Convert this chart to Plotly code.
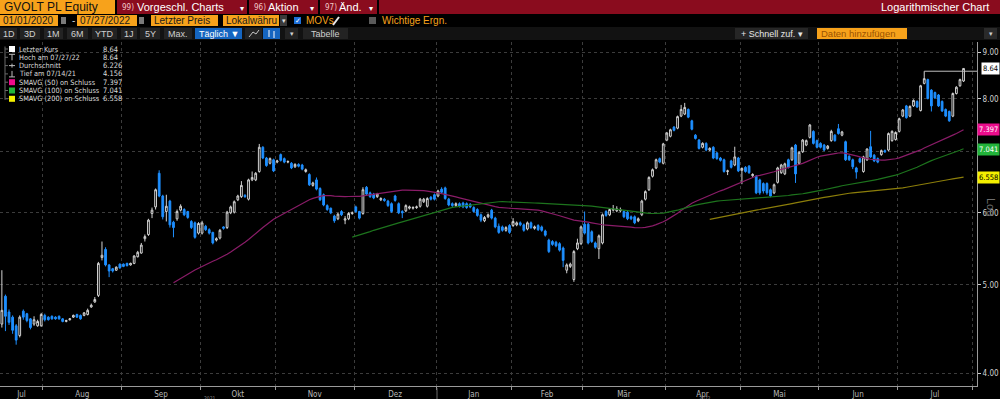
import numpy as np
import pandas as pd
import plotly.graph_objects as go

# ---------------- data ----------------
dates = pd.bdate_range("2021-07-14", "2022-07-27")

opens = [
 4.50,4.53,4.86,4.67,4.61,4.51,4.40,4.68,4.65,4.59, 4.53,4.51,4.51,4.63,4.61,4.62,4.61,4.62,4.59,4.56,
 4.58,4.61,4.64,4.63,4.63,4.64,4.73,4.79,4.87,5.36, 5.47,5.26,5.21,5.19,5.27,5.27,5.28,5.26,5.28,5.37,
 5.42,5.62,5.68,5.99,6.09,6.63,6.26,6.02,6.18,5.86, 5.91,6.04,6.05,6.02,5.87,5.85,5.70,5.70,5.80,5.75,
 5.71,5.60,5.63,5.79,5.78,6.00,6.01,6.20,6.25,6.27, 6.21,6.52,6.52,6.66,7.08,6.89,6.80,6.86,6.82,6.95,
 6.88,6.82,6.80,6.74,6.78,6.77,6.66,6.61,6.43,6.52, 6.38,6.28,6.11,6.07,5.95,5.91,6.02,5.89,5.91,5.99,
 6.09,6.02,5.99,6.40,6.31,6.29,6.25,6.20,6.21,6.18, 6.14,6.26,6.14,6.02,6.03,6.07,6.07,6.08,6.10,6.17,
 6.10,6.24,6.28,6.26,6.37,6.39,6.21,6.14,6.11,6.14, 6.15,6.14,6.13,6.08,6.05,5.97,5.88,5.94,6.04,5.92,
 5.80,5.79,5.74,5.81,5.81,5.82,5.85,5.82,5.76,5.85, 5.77,5.81,5.79,5.73,5.60,5.58,5.57,5.55,5.49,5.19,
 5.24,5.07,5.48,5.55,5.83,5.83,5.72,5.56,5.48,5.56, 6.02,5.97,6.04,6.03,6.03,6.02,6.01,5.94,5.94,5.88,
 5.97,6.21,6.36,6.58,6.72,6.88,6.80,7.21,7.28,7.45, 7.43,7.66,7.70,7.79,7.57,7.30,7.21,7.08,7.15,7.03,
 7.08,6.98,6.89,6.86,6.66,6.84,6.77,6.89,6.68,6.73, 6.75,6.59,6.58,6.52,6.46,6.46,6.36,6.31,6.48,6.64,
 6.62,6.86,6.86,7.12,6.80,7.00,7.12,7.26,7.37,7.20, 7.15,7.12,7.06,7.20,7.30,7.42,7.30,7.18,6.92,6.86,
 6.72,6.88,6.66,6.86,7.09,6.94,6.88,6.95,7.02,7.03, 7.20,7.22,7.37,7.66,7.86,7.66,7.86,7.95,7.77,8.32,
 8.40,8.18,8.13,8.08,7.95,7.79,7.75,7.66,8.11,8.27, 8.37]
highs = [
 4.70,5.19,4.88,4.70,4.63,4.53,4.63,4.70,4.66,4.60, 4.62,4.58,4.66,4.65,4.62,4.63,4.62,4.63,4.60,4.58,
 4.60,4.64,4.65,4.64,4.67,4.71,4.77,4.85,5.30,5.58, 5.50,5.27,5.22,5.24,5.28,5.28,5.29,5.29,5.39,5.45,
 5.56,5.68,5.91,6.08,6.38,6.68,6.28,6.28,6.20,5.88, 6.05,6.13,6.07,6.03,5.89,5.87,5.86,5.88,5.82,5.77,
 5.72,5.64,5.76,5.80,6.03,6.11,6.19,6.28,6.50,6.29, 6.54,6.66,6.65,7.14,7.10,6.91,6.90,6.88,6.86,6.97,
 6.90,6.85,6.82,6.80,6.80,6.79,6.71,6.63,6.49,6.56, 6.40,6.30,6.13,6.08,5.97,6.00,6.04,5.95,6.01,6.02,
 6.11,6.03,6.40,6.42,6.33,6.31,6.31,6.24,6.23,6.20, 6.16,6.28,6.16,6.04,6.13,6.11,6.10,6.11,6.23,6.23,
 6.24,6.26,6.30,6.36,6.40,6.41,6.23,6.16,6.16,6.16, 6.17,6.16,6.15,6.10,6.07,5.99,5.95,5.99,6.06,5.94,
 5.84,5.81,5.80,5.83,5.92,5.87,5.87,5.84,5.87,5.87, 5.81,5.83,5.81,5.75,5.62,5.60,5.59,5.57,5.51,5.28,
 5.29,5.46,5.62,5.81,6.02,5.85,5.74,5.58,5.68,5.99, 6.04,6.07,6.12,6.10,6.08,6.04,6.03,5.96,5.96,5.93,
 6.20,6.35,6.58,6.71,6.88,6.90,7.16,7.36,7.42,7.47, 7.67,7.88,7.92,7.81,7.59,7.32,7.23,7.17,7.17,7.08,
 7.10,7.00,6.91,6.88,6.69,6.86,7.09,6.91,6.73,6.75, 6.77,6.63,6.60,6.54,6.48,6.48,6.38,6.46,6.74,6.79,
 6.81,6.88,7.09,7.14,7.01,7.23,7.22,7.51,7.39,7.22, 7.17,7.14,7.12,7.40,7.32,7.51,7.38,7.20,6.94,6.88,
 6.74,6.90,6.93,7.06,7.38,6.96,6.90,7.04,7.04,7.35, 7.39,7.37,7.63,7.80,7.88,7.87,7.99,7.97,8.29,8.58,
 8.42,8.20,8.15,8.10,7.97,7.81,7.77,8.13,8.26,8.42, 8.64]
lows = [
 4.156,4.49,4.45,4.52,4.42,4.30,4.38,4.58,4.55,4.47, 4.51,4.50,4.50,4.56,4.57,4.58,4.58,4.58,4.55,4.55,
 4.57,4.60,4.60,4.58,4.62,4.63,4.72,4.78,4.85,5.32, 5.24,5.10,5.16,5.18,5.21,5.23,5.24,5.25,5.27,5.36,
 5.41,5.58,5.66,5.92,6.05,6.24,5.90,5.87,5.78,5.64, 5.88,6.02,5.95,5.91,5.76,5.62,5.68,5.68,5.73,5.68,
 5.54,5.58,5.61,5.75,5.76,5.98,5.99,6.18,6.23,6.23, 6.19,6.50,6.50,6.64,6.87,6.74,6.78,6.65,6.80,6.83,
 6.80,6.80,6.70,6.72,6.73,6.68,6.64,6.42,6.41,6.35, 6.18,6.10,6.03,5.98,5.85,5.89,5.95,5.83,5.89,5.97,
 6.00,5.90,5.97,6.27,6.23,6.21,6.23,6.18,6.17,6.09, 6.00,6.17,5.98,5.92,6.01,6.05,6.05,6.06,6.08,6.15,
 6.08,6.19,6.19,6.24,6.30,6.20,6.10,6.09,6.09,6.08, 6.07,6.06,6.07,6.00,5.94,5.86,5.86,5.92,5.90,5.77,
 5.69,5.72,5.72,5.69,5.79,5.80,5.80,5.72,5.74,5.76, 5.75,5.73,5.72,5.65,5.42,5.52,5.50,5.44,5.23,5.15,
 5.22,5.04,5.46,5.53,5.68,5.54,5.56,5.48,5.34,5.54, 5.94,5.95,6.02,6.01,6.01,5.92,5.89,5.89,5.83,5.86,
 5.95,6.19,6.34,6.56,6.70,6.80,6.78,7.19,7.26,7.37, 7.41,7.64,7.68,7.62,7.39,7.22,7.04,7.06,7.01,7.01,
 6.87,6.86,6.83,6.64,6.60,6.71,6.75,6.65,6.45,6.64, 6.62,6.57,6.29,6.28,6.30,6.28,6.24,6.29,6.46,6.62,
 6.60,6.71,6.84,6.47,6.78,6.98,7.10,7.24,7.13,7.06, 7.06,7.01,7.04,7.18,7.18,7.31,7.28,6.84,6.84,6.70,
 6.54,6.80,6.64,6.84,6.89,6.82,6.80,6.93,6.98,7.01, 7.18,7.20,7.35,7.64,7.61,7.64,7.84,7.82,7.75,8.30,
 7.99,7.75,8.00,7.84,7.74,7.64,7.55,7.64,8.09,8.25, 8.35]
closes = [
 4.60,4.69,4.62,4.55,4.46,4.35,4.61,4.61,4.57,4.49, 4.58,4.56,4.64,4.58,4.58,4.59,4.59,4.59,4.56,4.57,
 4.59,4.63,4.61,4.59,4.66,4.69,4.75,4.82,5.28,5.39, 5.26,5.18,5.18,5.23,5.22,5.24,5.25,5.28,5.38,5.43,
 5.53,5.65,5.89,6.04,6.36,6.26,5.94,6.10,5.82,5.78, 6.02,6.10,5.97,5.93,5.78,5.64,5.84,5.85,5.75,5.70,
 5.56,5.62,5.74,5.77,6.01,6.09,6.17,6.26,6.43,6.25, 6.52,6.56,6.63,7.08,6.89,6.76,6.88,6.67,6.84,6.85,
 6.82,6.83,6.72,6.78,6.75,6.70,6.69,6.44,6.47,6.37, 6.20,6.12,6.05,6.00,5.88,5.98,5.97,5.91,5.99,6.00,
 6.02,5.92,6.36,6.29,6.25,6.23,6.29,6.22,6.19,6.11, 6.02,6.19,6.00,6.00,6.11,6.09,6.08,6.09,6.21,6.21,
 6.22,6.21,6.21,6.34,6.32,6.22,6.12,6.11,6.14,6.10, 6.09,6.08,6.09,6.02,5.96,5.89,5.93,5.97,5.92,5.79,
 5.71,5.74,5.78,5.71,5.87,5.85,5.82,5.74,5.85,5.78, 5.79,5.75,5.74,5.67,5.44,5.54,5.52,5.46,5.32,5.26,
 5.27,5.44,5.56,5.79,5.70,5.56,5.58,5.50,5.66,5.97, 5.96,6.05,6.06,6.06,6.05,5.94,5.91,5.91,5.85,5.91,
 6.18,6.33,6.56,6.69,6.86,6.82,7.14,7.34,7.40,7.39, 7.65,7.79,7.83,7.64,7.41,7.24,7.06,7.15,7.03,7.06,
 6.89,6.88,6.85,6.66,6.67,6.73,6.91,6.67,6.71,6.66, 6.64,6.61,6.31,6.31,6.34,6.31,6.26,6.44,6.72,6.77,
 6.79,6.73,7.07,6.62,6.99,7.21,7.20,7.49,7.15,7.08, 7.08,7.03,7.10,7.37,7.20,7.33,7.36,6.86,6.86,6.74,
 6.65,6.82,6.91,7.05,6.91,6.84,6.82,7.02,7.00,7.33, 7.37,7.35,7.61,7.78,7.63,7.85,7.97,7.84,8.27,8.42,
 8.01,7.86,8.02,7.86,7.76,7.66,7.57,8.11,8.24,8.40, 8.64]

sma_windows = [50, 100, 200]
sma_line_colors = ["#8a1c68", "#1d741d", "#8c7e0a"]
sma_tag_colors = ["#ec0c8c", "#22b33a", "#f4f000"]
sma_tag_text = ["white", "white", "black"]

legend_labels = ["Letzter Kurs", "Hoch am 07/27/22", "Durchschnitt", "Tief am 07/14/21",
                 "SMAVG (50) on Schluss", "SMAVG (100) on Schluss", "SMAVG (200) on Schluss"]
legend_values = ["8.64", "8.64", "6.226", "4.156", "7.397", "7.041", "6.558"]

month_names = {1: "Jan", 2: "Feb", 3: "Mär", 4: "Apr", 5: "Mai", 6: "Jun",
               7: "Jul", 8: "Aug", 9: "Sep", 10: "Okt", 11: "Nov", 12: "Dez"}
y_ticks = [4, 5, 6, 7, 8, 9]
prior_high_index = 259

# ---------------- geometry helpers (layout chrome only) ----------------
W, H = 1000, 399
ML, MR, MT, MB = 0, 23, 42, 13
PW, PH = W - ML - MR, H - MT - MB
XMIN, XMAX = 0.476, 273.76
YR = [0.58814, 0.96554]

def px(x):
    return (x - ML) / PW

def py(y):
    return (H - MB - y) / PH

NARROW = "Liberation Sans Narrow, DejaVu Sans Condensed, Liberation Sans, Arial, sans-serif"
REG = "Liberation Sans, Arial, sans-serif"
shapes, annos = [], []

def rect(x0, y0, x1, y1, fill, line=None):
    shapes.append(dict(type="rect", xref="paper", yref="paper", x0=px(x0), x1=px(x1),
                       y0=py(y1), y1=py(y0), fillcolor=fill,
                       line=dict(width=1 if line else 0, color=line or fill), layer="above"))

def seg(x0, y0, x1, y1, color, width=1, dash=None):
    shapes.append(dict(type="line", xref="paper", yref="paper", x0=px(x0), x1=px(x1),
                       y0=py(y0), y1=py(y1), line=dict(color=color, width=width, dash=dash), layer="above"))

def text(x, y, s, color="#d0d0d0", size=10, anchor="left", family=REG, **kw):
    annos.append(dict(xref="paper", yref="paper", x=px(x), y=py(y), text=s, showarrow=False,
                      xanchor=anchor, yanchor="middle", font=dict(family=family, size=size, color=color), **kw))

# ---------------- figure ----------------
x = np.arange(len(dates))
close_s = pd.Series(closes)
fig = go.Figure()

for w, c in zip(sma_windows, sma_line_colors):
    fig.add_trace(go.Scatter(x=x, y=close_s.rolling(w).mean(), mode="lines",
                             line=dict(color=c, width=1.2), hoverinfo="skip", showlegend=False))

fig.add_trace(go.Candlestick(
    x=x, open=opens, high=highs, low=lows, close=closes, whiskerwidth=0,
    increasing=dict(line=dict(color="#d2d2d2", width=1), fillcolor="#000000"),
    decreasing=dict(line=dict(color="#1e8fff", width=1), fillcolor="#1e8fff"),
    showlegend=False))

# line from the earlier peak to the right price tag
fig.add_trace(go.Scatter(x=[prior_high_index, XMAX], y=[highs[prior_high_index]] * 2, mode="lines",
                         line=dict(color="#bdbdbd", width=1), hoverinfo="skip", showlegend=False,
                         cliponaxis=False))

# month boundaries / label centres from dates
per = dates.to_period("M")
starts = [0] + [i for i in range(1, len(dates)) if per[i] != per[i - 1]]
after = len(pd.bdate_range(dates[-1] + pd.Timedelta(days=1), dates[-1] + pd.offsets.MonthEnd(0)))
bounds = [s - 0.5 for s in starts] + [len(dates) + after - 0.5]
minor_vals = bounds[1:]
centers, labels = [], []
for k, s in enumerate(starts):
    a, b = max(bounds[k], XMIN), min(bounds[k + 1], XMAX)
    centers.append((a + b) / 2)
    labels.append(month_names[dates[s].month])

fig.update_layout(
    width=W, height=H, autosize=False,
    margin=dict(l=ML, r=MR, t=MT, b=MB, pad=0),
    paper_bgcolor="#000000", plot_bgcolor="#000000",
    font=dict(family=NARROW, color="#c8c8c8"),
    xaxis=dict(range=[XMIN, XMAX], tickmode="array", tickvals=centers, ticktext=labels,
               ticks="", showgrid=False, zeroline=False, rangeslider=dict(visible=False),
               showline=True, linecolor="#9a9a9a", linewidth=1,
               tickfont=dict(family=NARROW, size=8, color="#b8b8b8"),
               minor=dict(tickmode="array", tickvals=minor_vals, ticks="outside", ticklen=3,
                          tickcolor="#9a9a9a", showgrid=True, gridcolor="#3c3c3c", griddash="dot",
                          gridwidth=1)),
    yaxis=dict(type="log", range=YR, side="right", tickmode="array", tickvals=y_ticks,
               ticktext=[f"{v:.2f}" for v in y_ticks], ticks="outside", ticklen=3,
               tickcolor="#cfcfcf", showgrid=True, gridcolor="#3c3c3c", griddash="dot",
               zeroline=False, showline=True, linecolor="#9a9a9a", linewidth=1,
               tickfont=dict(family=NARROW, size=8, color="#d0d0d0")),
)

# ---------------- header chrome ----------------
rect(0, 0, 1000, 14, "#8a0c1e")
rect(0, 0, 115, 14, "#f7a21b")
text(2, 7.5, "GVOLT PL Equity", "#111111", 12)
for sx in (115, 247, 318, 377):
    rect(sx, 0, sx + 2, 14, "#000000")
text(120, 7.5, "99)", "#f3c6c6", 8, family=NARROW)
text(135, 7.5, "Vorgeschl. Charts", "#ffffff", 11)
text(238, 8, "▾", "#ffffff", 8)
text(252, 7.5, "96)", "#f3c6c6", 8, family=NARROW)
text(266, 7.5, "Aktion", "#ffffff", 11)
text(308, 8, "▾", "#ffffff", 8)
text(323, 7.5, "97)", "#f3c6c6", 8, family=NARROW)
text(337, 7.5, "Änd.", "#ffffff", 11)
text(367, 8, "▾", "#ffffff", 8)
text(991, 7.5, "Logarithmischer Chart", "#ffffff", 11, anchor="right")

# row 2
rect(0, 14, 1000, 27, "#000000")
for x0, x1, s in ((0, 58, "01/01/2020"), (77, 137, "07/27/2022"), (151, 218, "Letzter Preis"),
                  (223, 279, "Lokalwähru")):
    rect(x0, 15, x1, 26, "#f7a21b")
    text(x0 + 1, 20.5, s, "#1a1a1a", 10)
for cx in (61, 139):
    rect(cx, 17, cx + 5, 24, "#7a7a7a")
text(70, 20.5, "-", "#d0d0d0", 10)
rect(280, 15, 287, 26, "#3a3a3a")
text(283.5, 21, "▾", "#e0e0e0", 7, anchor="center")
rect(294, 17, 301, 24, "#1c6fd8")
text(297.5, 20.5, "✓", "#ffffff", 7, anchor="center")
text(304, 20.5, "MOVs", "#f7a21b", 10)
seg(333, 25, 339, 17, "#e8e8e8", 2)
rect(369, 17, 376, 24, "#5a5a5a")
text(380, 20.5, "Wichtige Ergn.", "#f7a21b", 10)

# row 3
rect(0, 27, 1000, 40, "#121212")
for x0, x1, s in ((0, 17, "1D"), (20, 40, "3D"), (44, 63, "1M"), (67, 88, "6M"), (92, 117, "YTD"),
                  (121, 137, "1J"), (140, 160, "5Y"), (164, 192, "Max."), (303, 348, "Tabelle")):
    rect(x0, 28, x1, 39, "#232323")
    text((x0 + x1) / 2, 33.5, s, "#cfcfcf", 9, anchor="center")
rect(195, 28, 242, 39, "#1565c0")
text(218.5, 33.5, "Täglich ▼", "#ffffff", 9, anchor="center")
rect(245, 28, 262, 39, "#232323")
seg(249, 37, 253, 32, "#c8c8c8"); seg(253, 32, 256, 34, "#c8c8c8"); seg(256, 34, 259, 30, "#c8c8c8")
rect(263, 28, 280, 39, "#1565c0")
seg(269, 30, 269, 37, "#ffffff"); seg(274, 31, 274, 38, "#ffffff")
rect(285, 28, 298, 39, "#232323")
text(291.5, 34, "▾", "#cfcfcf", 7, anchor="center")
rect(735, 28, 808, 39, "#262626")
text(771.5, 33.5, "+ Schnell zuf. ▾", "#e6e6e6", 9, anchor="center")
rect(817, 28, 907, 39, "#f7a21b")
text(819, 33.5, "Daten hinzufügen", "#9a5200", 9.5)
rect(984, 28, 997, 39, "#2a2a2a")
text(990.5, 34, "▾", "#cfcfcf", 7, anchor="center")

# ---------------- in-chart legend ----------------
row_y = [49 + 8.3 * k for k in range(7)]
seg(5, 46.5, 5, row_y[-1] + 1, "#6a6a6a")
for k, (lab, val) in enumerate(zip(legend_labels, legend_values)):
    yy = row_y[k]
    seg(5, yy, 8, yy, "#6a6a6a")
    text(17, yy, lab, "#dcdcdc", 7.3, family=NARROW)
    text(101, yy, val, "#dcdcdc", 7.5, family=NARROW)
rect(9, row_y[0] - 3, 15, row_y[0] + 3, "#ffffff")
seg(9, row_y[1] - 3, 15, row_y[1] - 3, "#bbbbbb"); seg(12, row_y[1] - 3, 12, row_y[1] + 3, "#bbbbbb")
seg(9, row_y[2], 15, row_y[2], "#bbbbbb"); seg(12, row_y[2] - 2, 12, row_y[2] + 2, "#bbbbbb")
seg(9, row_y[3] + 3, 15, row_y[3] + 3, "#bbbbbb"); seg(12, row_y[3] - 3, 12, row_y[3] + 3, "#bbbbbb")
for k, c in zip((4, 5, 6), sma_tag_colors):
    rect(9, row_y[k] - 3, 15, row_y[k] + 3, c)

# ---------------- right price tags ----------------
tag_vals = [closes[-1]] + [float(v) for v in legend_values[4:]]
tag_bg = ["#ffffff"] + sma_tag_colors
tag_fg = ["#000000"] + sma_tag_text
tag_txt = [legend_values[0]] + legend_values[4:]
for v, bg, fg, t in zip(tag_vals, tag_bg, tag_fg, tag_txt):
    annos.append(dict(xref="paper", yref="y", x=px(999.5), y=np.log10(v), text=t, showarrow=False,
                      xanchor="right", yanchor="middle", bgcolor=bg, borderpad=1,
                      font=dict(family=NARROW, size=7.5, color=fg)))
annos.append(dict(xref="paper", yref="paper", x=px(991), y=py(207), text="Log", textangle=90,
                  showarrow=False, xanchor="center", yanchor="middle",
                  font=dict(family=REG, size=11, color="#6e6e6e")))

# year hints under the month axis
text(210, 397.5, "2021", "#8a8a8a", 5, anchor="center", family=NARROW)
text(705, 397.5, "2022", "#8a8a8a", 5, anchor="center", family=NARROW)
seg(437, 388, 437, 399, "#6a6a6a")

fig.update_layout(shapes=shapes, annotations=annos)
fig.write_html("out.html", config={"displayModeBar": False},
               post_script="document.body.style.margin='0';document.body.style.overflow='hidden';")
